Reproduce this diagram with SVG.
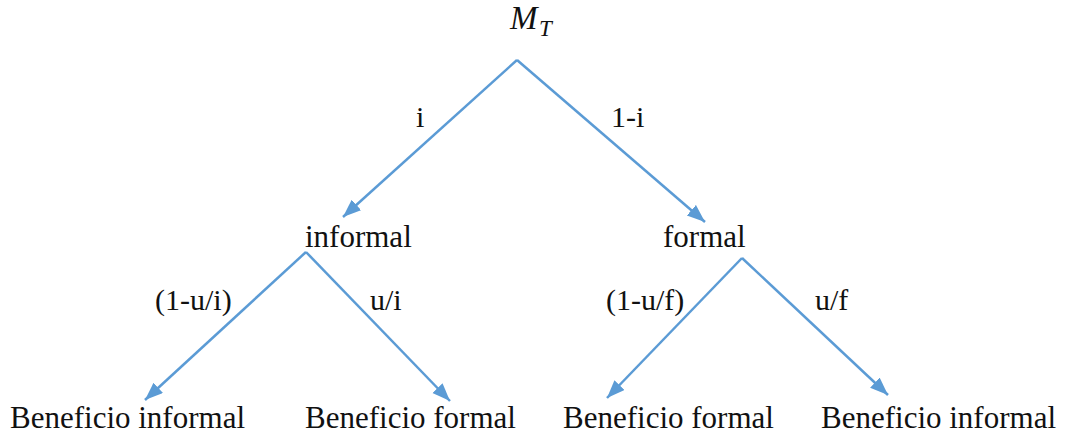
<svg xmlns="http://www.w3.org/2000/svg" width="1073" height="437" viewBox="0 0 1073 437">
<style>
.t{font-family:"Liberation Serif","Times New Roman",serif;font-size:31px;fill:#111}
.lbl{font-family:"Liberation Serif","Times New Roman",serif;font-size:30px;fill:#111}
.c{stroke:#5B9BD5;stroke-width:2.5;fill:none}
.m{font-family:"Liberation Serif","Times New Roman",serif;font-style:italic;fill:#111}
</style>
<defs>
<marker id="ah" markerUnits="userSpaceOnUse" markerWidth="20" markerHeight="16" refX="18" refY="7" orient="auto">
<path d="M0,0 L18,7 L0,14 Z" fill="#5B9BD5"/>
</marker>
</defs>
<g id="root"><text class="m" x="510" y="29" font-size="33">M</text><text class="m" x="539" y="36" font-size="23">T</text></g>
<g id="informal"><text class="t" x="305" y="247">informal</text></g>
<g id="formal"><text class="t" x="663" y="247">formal</text></g>
<g id="leaf1"><text class="t" x="10" y="428">Beneficio informal</text></g>
<g id="leaf2"><text class="t" x="305" y="428">Beneficio formal</text></g>
<g id="leaf3"><text class="t" x="563" y="428">Beneficio formal</text></g>
<g id="leaf4"><text class="t" x="821" y="428">Beneficio informal</text></g>
<g id="connectors">
<line class="c" x1="517" y1="60" x2="343" y2="217" marker-end="url(#ah)"/>
<line class="c" x1="517" y1="60" x2="705" y2="222" marker-end="url(#ah)"/>
<line class="c" x1="306" y1="252" x2="145" y2="400" marker-end="url(#ah)"/>
<line class="c" x1="306" y1="252" x2="450" y2="401" marker-end="url(#ah)"/>
<line class="c" x1="742" y1="258" x2="607" y2="398" marker-end="url(#ah)"/>
<line class="c" x1="742" y1="258" x2="888" y2="395" marker-end="url(#ah)"/>
</g>
<g id="labels">
<text class="lbl" x="416" y="127">i</text>
<text class="lbl" x="611" y="127">1-i</text>
<text class="lbl" x="155" y="310">(1-u/i)</text>
<text class="lbl" x="370" y="310">u/i</text>
<text class="lbl" x="606" y="310">(1-u/f)</text>
<text class="lbl" x="815" y="310">u/f</text>
</g>
</svg>
